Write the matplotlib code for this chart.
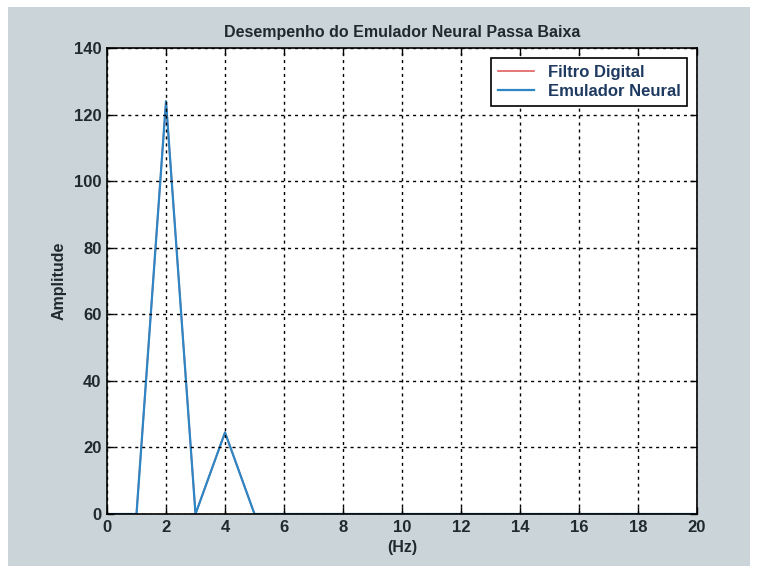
import matplotlib
matplotlib.use("Agg")
import matplotlib.pyplot as plt
from matplotlib.patches import Rectangle

# Frequency axis (Hz) and spectral amplitudes
freq_hz = [0, 1, 2, 3, 4, 5, 6, 7, 8, 9, 10, 11, 12, 13, 14, 15, 16, 17, 18, 19, 20]
filtro_digital = [0, 0, 124, 0, 24.5, 0, 0, 0, 0, 0, 0, 0, 0, 0, 0, 0, 0, 0, 0, 0, 0]
emulador_neural = [0, 0, 124, 0, 24.5, 0, 0, 0, 0, 0, 0, 0, 0, 0, 0, 0, 0, 0, 0, 0, 0]
x_ticks = [0, 2, 4, 6, 8, 10, 12, 14, 16, 18, 20]
y_ticks = [0, 20, 40, 60, 80, 100, 120, 140]

plt.rcParams['font.family'] = ['Liberation Sans', 'DejaVu Sans']

W, H = 758, 573
fig = plt.figure(figsize=(W / 100, H / 100), dpi=100, facecolor='white')
# grey figure panel behind the axes
fig.patches.append(Rectangle((8 / W, 7 / H), (750 - 8) / W, (566 - 7) / H,
                             transform=fig.transFigure, facecolor='#cbd4d9',
                             edgecolor='none', zorder=-10))

left, right, top, bottom = 107, 697, 48, 514
ax = fig.add_axes([left / W, 1 - bottom / H, (right - left) / W, (bottom - top) / H])
ax.set_zorder(1)
ax.set_facecolor('white')

ax.plot(freq_hz, filtro_digital, color='#e06060', lw=1.2, label='Filtro Digital')
ax.plot(freq_hz, emulador_neural, color='#2f86c4', lw=1.6, label='Emulador Neural')

ax.set_xlim(0, 20)
ax.set_ylim(0, 140)
ax.set_xticks(x_ticks)
ax.set_yticks(y_ticks)
ax.grid(True, color='black', linestyle=(0, (2.2, 2.8)), linewidth=1.0)
ax.set_axisbelow(False)
ax.tick_params(direction='in', top=True, right=True, length=5, width=1,
               labelsize=12, colors='black', pad=4)
for lbl in ax.get_xticklabels() + ax.get_yticklabels():
    lbl.set_fontweight('bold')
    lbl.set_color('#1e2a30')
for sp in ax.spines.values():
    sp.set_linewidth(1.2)
    sp.set_color('black')

ax.set_title('Desempenho do Emulador Neural Passa Baixa', fontsize=11.5,
             fontweight='bold', color='#1e2a30', pad=8)
ax.set_xlabel('(Hz)', fontsize=11.5, fontweight='bold', color='#1e2a30', labelpad=4)
ax.set_ylabel('Amplitude', fontsize=11.5, fontweight='bold', color='#1e2a30', labelpad=5)

leg = ax.legend(loc='upper right', fontsize=12, frameon=True, fancybox=False,
                edgecolor='black', framealpha=1, borderpad=0.4,
                handlelength=2.2, labelspacing=0.25, borderaxespad=0.6)
leg.get_frame().set_linewidth(1.2)
for t in leg.get_texts():
    t.set_color('#1e3a60')
    t.set_fontweight('bold')

fig.savefig('out.png', dpi=100, facecolor='white')
